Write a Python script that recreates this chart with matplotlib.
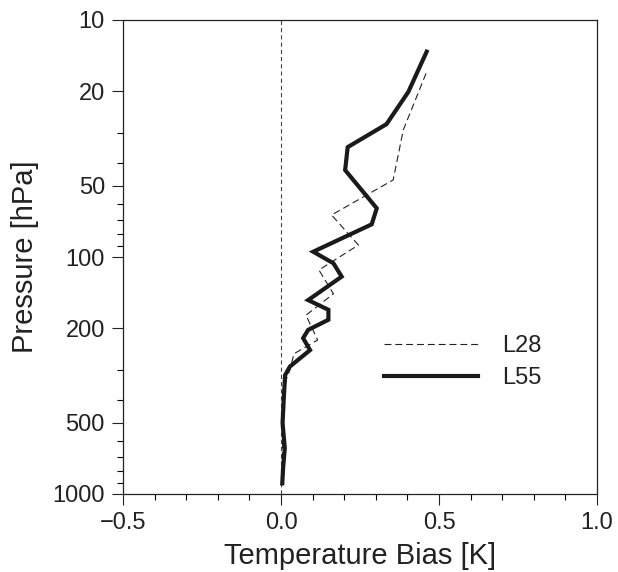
import matplotlib
matplotlib.use("Agg")
import matplotlib.pyplot as plt
from matplotlib.ticker import FixedLocator, NullFormatter, MultipleLocator

plt.rcParams['font.family'] = ['Liberation Sans', 'DejaVu Sans']
plt.rcParams['lines.scale_dashes'] = False

# L28 (dashed) temperature bias [K] vs pressure [hPa]
l28_bias = [0.459, 0.387, 0.355, 0.160, 0.245, 0.120, 0.166, 0.079, 0.116,
            0.041, 0.028, 0.016, 0.006, 0.003, 0.003]
l28_pres = [16.8, 29.1, 47.3, 66.5, 89.0, 113.5, 143, 176, 224,
            256, 300, 330, 488, 873, 907]

# L55 (solid)
l55_bias = [0.461, 0.403, 0.334, 0.211, 0.203, 0.303, 0.287, 0.102, 0.166,
            0.192, 0.086, 0.150, 0.150, 0.086, 0.070, 0.092, 0.028, 0.013,
            0.009, 0.005, 0.012, 0.007, 0.004]
l55_pres = [13.6, 20.1, 27.5, 34.4, 43.0, 62.3, 72.8, 95.0, 106.3,
            121, 152, 167, 184, 203, 220, 247, 290, 315,
            390, 502, 640, 767, 902]

y_major = [10, 20, 50, 100, 200, 500, 1000]
y_minor = [30, 40, 60, 70, 80, 90, 300, 400, 600, 700, 800, 900]
x_major = [-0.5, 0.0, 0.5, 1.0]

fig = plt.figure(figsize=(6.18, 5.72), dpi=100)
ax = fig.add_axes([123/618, 1 - 494/572, (597 - 123)/618, (494 - 20)/572])

ax.axvline(0.0, color='#444444', lw=0.8, dashes=(3, 2.2))
ax.plot(l28_bias, l28_pres, color='#222222', lw=0.8, dashes=(5, 2.8), label='L28')
ax.plot(l55_bias, l55_pres, color='#1a1a1a', lw=3.0, solid_joinstyle='miter', label='L55')

ax.set_yscale('log')
ax.set_ylim(1000, 10)
ax.set_xlim(-0.5, 1.0)

ax.yaxis.set_major_locator(FixedLocator(y_major))
ax.yaxis.set_minor_locator(FixedLocator(y_minor))
ax.yaxis.set_minor_formatter(NullFormatter())
ax.set_yticklabels([str(v) for v in y_major])
ax.xaxis.set_major_locator(FixedLocator(x_major))
ax.xaxis.set_minor_locator(MultipleLocator(0.1))
ax.set_xticklabels(['\u22120.5', '0.0', '0.5', '1.0'])

ax.tick_params(which='major', direction='out', length=8, width=0.8, labelsize=17, colors='#222222', pad=5)
ax.tick_params(which='minor', direction='out', length=4, width=0.8)
for s in ax.spines.values():
    s.set_linewidth(0.9)
    s.set_color('#222222')

ax.set_xlabel('Temperature Bias [K]', fontsize=21, color='#222222', labelpad=6)
ax.set_ylabel('Pressure [hPa]', fontsize=21, color='#222222', labelpad=10)

ax.legend(loc='center left', bbox_to_anchor=(0.505, 0.278), frameon=False,
          fontsize=17, handlelength=4.0, handletextpad=1.0, labelspacing=0.42,
          labelcolor='#222222')

fig.savefig('out.png', dpi=100)
